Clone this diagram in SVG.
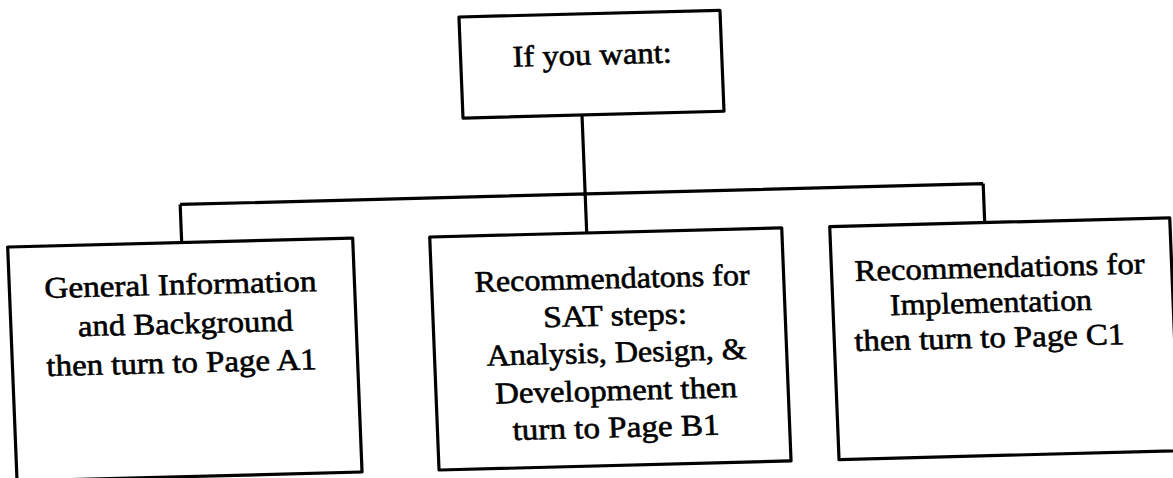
<svg xmlns="http://www.w3.org/2000/svg" width="1173" height="478" viewBox="0 0 1173 478">
<style>
.box{fill:#fff;stroke:#000;stroke-width:3.2;stroke-linejoin:round}
.conn{fill:none;stroke:#000;stroke-width:3.2}
text{font-family:"Liberation Serif","Times New Roman",serif;font-size:30px;fill:#000;stroke:#000;stroke-width:0.6}
</style>
<rect width="1173" height="478" fill="#fff"/>
<g transform="matrix(1,-0.026,0.04,1,-9.6,15.2)">
<g id="connectors">
<path class="conn" d="M587,115 V233 M182,194 H985 M182,194 V232 M985,194 V233"/>
</g>
<g id="node-top">
<rect class="box" x="468" y="14" width="261" height="101"/>
<text x="520" y="65" textLength="159" lengthAdjust="spacingAndGlyphs">If you want:</text>
</g>
<g id="node-a">
<rect class="box" x="8" y="232" width="345" height="234"/>
<text x="43" y="284" textLength="272" lengthAdjust="spacingAndGlyphs">General Information</text>
<text x="75" y="323" textLength="215" lengthAdjust="spacingAndGlyphs">and Background</text>
<text x="42" y="362" textLength="270" lengthAdjust="spacingAndGlyphs">then turn to Page A1</text>
</g>
<g id="node-b">
<rect class="box" x="430" y="233" width="352" height="233"/>
<text x="473" y="289" textLength="275" lengthAdjust="spacingAndGlyphs">Recommendatons for</text>
<text x="540" y="326" textLength="144" lengthAdjust="spacingAndGlyphs">SAT steps:</text>
<text x="482" y="363" textLength="260" lengthAdjust="spacingAndGlyphs">Analysis, Design, &amp;</text>
<text x="489" y="401" textLength="242" lengthAdjust="spacingAndGlyphs">Development then</text>
<text x="505" y="438" textLength="207" lengthAdjust="spacingAndGlyphs">turn to Page B1</text>
</g>
<g id="node-c">
<rect class="box" x="830" y="233" width="340" height="233"/>
<text x="853" y="288" textLength="290" lengthAdjust="spacingAndGlyphs">Recommendations for</text>
<text x="887" y="323" textLength="202" lengthAdjust="spacingAndGlyphs">Implementation</text>
<text x="850" y="358" textLength="270" lengthAdjust="spacingAndGlyphs">then turn to Page C1</text>
</g>
</g>
</svg>
